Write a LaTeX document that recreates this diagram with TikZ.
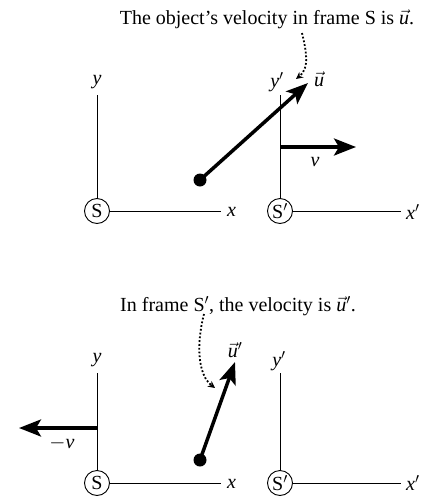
\documentclass[tikz,border=0pt]{standalone}
\usepackage{fontspec}
\setmainfont{Liberation Serif}
\usetikzlibrary{arrows.meta}
\newcommand{\vi}[1]{\textit{#1}}
\newcommand{\vu}{$\vec{\textit{u}}$}
\begin{document}
\begin{tikzpicture}[x=1pt,y=-1pt,
  lbl/.style={font=\fontsize{20}{24}\selectfont, inner sep=0pt},
  origin/.style={circle, draw, line width=0.9pt, minimum size=25pt, inner sep=0pt, font=\fontsize{20}{24}\selectfont},
  axis/.style={line width=0.9pt},
  bigarrow/.style={line width=3.5pt, -{Stealth[length=22pt, width=17pt, inset=5pt]}},
  dot/.style={circle, fill, minimum size=13pt, inner sep=0pt},
  dotarrow/.style={dotted, line width=1.8pt, -{Stealth[length=7pt, width=7pt]}}]
\useasboundingbox (0,0) rectangle (426,504);

% ---------- top panel ----------
\node[lbl] (cap1) at (267,19) {The object's velocity in frame S is \vu.};
\node[origin] (S1) at (97,211) {S};
\node[origin] (Sp1) at (280,211) {S$'$};
\node[lbl] (y1) at (97,82) {\vi{y}};
\node[lbl] (yp1) at (277,82) {\vi{y}$'$};
\node[lbl, anchor=west] (x1) at (227,212) {\vi{x}};
\node[lbl, anchor=west] (xp1) at (406,212) {\vi{x}$'$};
\coordinate (y1t) at (97,95);
\coordinate (yp1t) at (280,95);
\coordinate (x1e) at (221,211);
\coordinate (xp1e) at (401,211);
\draw[axis] (S1) -- (y1t);
\draw[axis] (S1) -- (x1e);
\draw[axis] (Sp1) -- (yp1t);
\draw[axis] (Sp1) -- (xp1e);
\node[dot] (d1) at (200,180) {};
\coordinate (u1) at (308,83);
\draw[bigarrow] (d1.center) -- (u1);
\node[lbl] (ul1) at (319,79) {\vu};
\coordinate (v1s) at (280,147);
\coordinate (v1e) at (356,147);
\draw[bigarrow] (v1s) -- (v1e);
\node[lbl] (vl1) at (315,162) {\vi{v}};
\coordinate (c1s) at (302,33);
\coordinate (c1e) at (296,79);
\draw[dotarrow] (c1s) .. controls (306,50) and (310,68) .. (c1e);

% ---------- bottom panel ----------
\node[lbl] (cap2) at (238,306) {In frame S$'$, the velocity is \vu$'$.};
\node[origin] (S2) at (97,483) {S};
\node[origin] (Sp2) at (280,483) {S$'$};
\node[lbl] (y2) at (97,360) {\vi{y}};
\node[lbl] (yp2) at (279,361) {\vi{y}$'$};
\node[lbl, anchor=west] (x2) at (227,484) {\vi{x}};
\node[lbl, anchor=west] (xp2) at (406,483) {\vi{x}$'$};
\coordinate (y2t) at (97,373);
\coordinate (yp2t) at (280,373);
\coordinate (x2e) at (221,483);
\coordinate (xp2e) at (401,483);
\draw[axis] (S2) -- (y2t);
\draw[axis] (S2) -- (x2e);
\draw[axis] (Sp2) -- (yp2t);
\draw[axis] (Sp2) -- (xp2e);
\node[dot] (d2) at (200,460) {};
\coordinate (u2) at (235,362);
\draw[bigarrow] (d2.center) -- (u2);
\node[lbl] (ul2) at (235,350) {\vu$'$};
\coordinate (v2s) at (97,428);
\coordinate (v2e) at (19,428);
\draw[bigarrow] (v2s) -- (v2e);
\node[lbl] (vl2) at (62,443) {$-$\vi{v}};
\coordinate (c2s) at (204,314);
\coordinate (c2e) at (215,388);
\draw[dotarrow] (c2s) .. controls (196,345) and (198,375) .. (c2e);
\end{tikzpicture}
\end{document}
